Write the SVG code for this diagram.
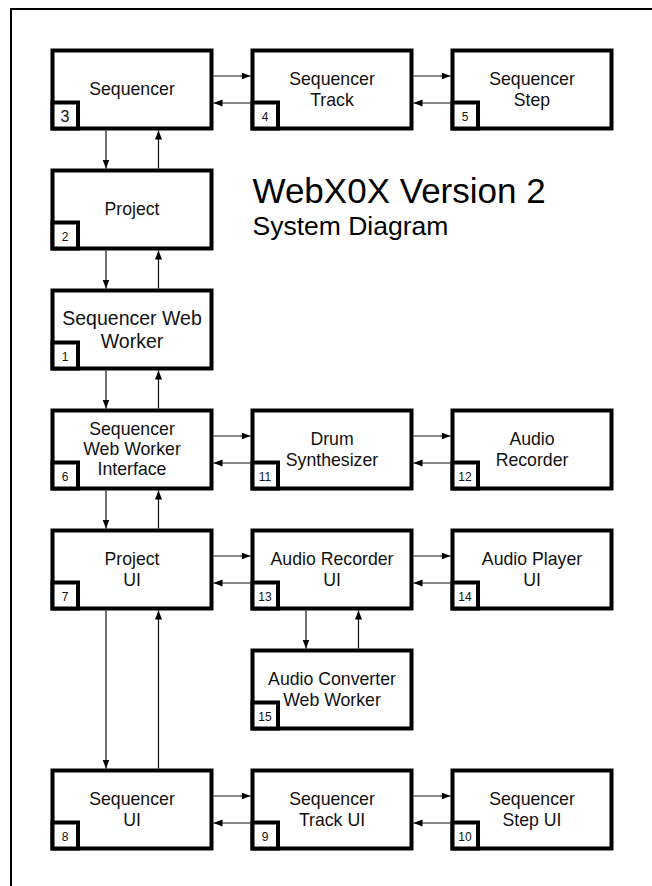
<svg xmlns="http://www.w3.org/2000/svg" width="652" height="886" viewBox="0 0 652 886">
<style>
.box{fill:#fff;stroke:#000;stroke-width:4;stroke-linejoin:miter}
.num{fill:#fff;stroke:#000;stroke-width:4}
.lbl{font-family:"Liberation Sans",Arial,sans-serif;font-size:17.7px;text-anchor:middle;fill:#111}
.big{font-size:19.5px}
.n{font-family:"Liberation Sans",Arial,sans-serif;font-size:12px;text-anchor:middle;fill:#111}
.n3{font-size:16px}
.c{stroke:#111;stroke-width:1.2;fill:none;marker-end:url(#ah)}
.title{font-family:"Liberation Sans",Arial,sans-serif;fill:#000}
</style>
<defs>
<marker id="ah" markerUnits="userSpaceOnUse" markerWidth="10" markerHeight="8" refX="9" refY="3.5" orient="auto">
<path d="M0,0 L9,3.5 L0,7 z" fill="#000"/>
</marker>
</defs>
<rect width="652" height="886" fill="#fff"/>
<rect x="11" y="9" width="700" height="900" fill="none" stroke="#000" stroke-width="2"/>

<g id="title" class="title">
<text x="252.5" y="203.3" font-size="35">WebX0X Version 2</text>
<text x="252.5" y="235" font-size="26.5">System Diagram</text>
</g>

<g id="connectors">
<line class="c" x1="213.5" y1="76" x2="250.5" y2="76"/>
<line class="c" x1="250.5" y1="103" x2="213.5" y2="103"/>
<line class="c" x1="413.5" y1="76" x2="450.5" y2="76"/>
<line class="c" x1="450.5" y1="103" x2="413.5" y2="103"/>
<line class="c" x1="106" y1="130.5" x2="106" y2="168.5"/>
<line class="c" x1="158.5" y1="168.5" x2="158.5" y2="130.5"/>
<line class="c" x1="106" y1="250.5" x2="106" y2="288.5"/>
<line class="c" x1="158.5" y1="288.5" x2="158.5" y2="250.5"/>
<line class="c" x1="106" y1="370.5" x2="106" y2="408.5"/>
<line class="c" x1="158.5" y1="408.5" x2="158.5" y2="370.5"/>
<line class="c" x1="106" y1="490.5" x2="106" y2="528.5"/>
<line class="c" x1="158.5" y1="528.5" x2="158.5" y2="490.5"/>
<line class="c" x1="106" y1="610.5" x2="106" y2="768.5"/>
<line class="c" x1="158.5" y1="768.5" x2="158.5" y2="610.5"/>
<line class="c" x1="213.5" y1="436" x2="250.5" y2="436"/>
<line class="c" x1="250.5" y1="463" x2="213.5" y2="463"/>
<line class="c" x1="413.5" y1="436" x2="450.5" y2="436"/>
<line class="c" x1="450.5" y1="463" x2="413.5" y2="463"/>
<line class="c" x1="213.5" y1="556" x2="250.5" y2="556"/>
<line class="c" x1="250.5" y1="583" x2="213.5" y2="583"/>
<line class="c" x1="413.5" y1="556" x2="450.5" y2="556"/>
<line class="c" x1="450.5" y1="583" x2="413.5" y2="583"/>
<line class="c" x1="306" y1="610.5" x2="306" y2="648.5"/>
<line class="c" x1="358.5" y1="648.5" x2="358.5" y2="610.5"/>
<line class="c" x1="213.5" y1="796" x2="250.5" y2="796"/>
<line class="c" x1="250.5" y1="823" x2="213.5" y2="823"/>
<line class="c" x1="413.5" y1="796" x2="450.5" y2="796"/>
<line class="c" x1="450.5" y1="823" x2="413.5" y2="823"/>
</g>

<g id="n3">
<rect class="box" x="52.5" y="50.5" width="159" height="78"/>
<text class="lbl" x="132" y="95">Sequencer</text>
<rect class="num" x="52.5" y="102.5" width="25.5" height="26"/>
<text class="n n3" x="65" y="121.5">3</text>
</g>
<g id="n4">
<rect class="box" x="252.5" y="50.5" width="159" height="78"/>
<text class="lbl" x="332" y="85">Sequencer</text>
<text class="lbl" x="332" y="106">Track</text>
<rect class="num" x="252.5" y="102.5" width="25.5" height="26"/>
<text class="n" x="265" y="120.5">4</text>
</g>
<g id="n5">
<rect class="box" x="452.5" y="50.5" width="159" height="78"/>
<text class="lbl" x="532" y="85">Sequencer</text>
<text class="lbl" x="532" y="106">Step</text>
<rect class="num" x="452.5" y="102.5" width="25.5" height="26"/>
<text class="n" x="465" y="120.5">5</text>
</g>
<g id="n2">
<rect class="box" x="52.5" y="170.5" width="159" height="78"/>
<text class="lbl" x="132" y="215">Project</text>
<rect class="num" x="52.5" y="222.5" width="25.5" height="26"/>
<text class="n" x="65" y="240.5">2</text>
</g>
<g id="n1">
<rect class="box" x="52.5" y="290.5" width="159" height="78"/>
<text class="lbl big" x="132" y="325">Sequencer Web</text>
<text class="lbl big" x="132" y="348">Worker</text>
<rect class="num" x="52.5" y="342.5" width="25.5" height="26"/>
<text class="n" x="65" y="360.5">1</text>
</g>
<g id="n6">
<rect class="box" x="52.5" y="410.5" width="159" height="78"/>
<text class="lbl" x="132" y="435">Sequencer</text>
<text class="lbl" x="132" y="455">Web Worker</text>
<text class="lbl" x="132" y="475">Interface</text>
<rect class="num" x="52.5" y="462.5" width="25.5" height="26"/>
<text class="n" x="65" y="480.5">6</text>
</g>
<g id="n11">
<rect class="box" x="252.5" y="410.5" width="159" height="78"/>
<text class="lbl" x="332" y="445">Drum</text>
<text class="lbl" x="332" y="466">Synthesizer</text>
<rect class="num" x="252.5" y="462.5" width="25.5" height="26"/>
<text class="n" x="265" y="480.5">11</text>
</g>
<g id="n12">
<rect class="box" x="452.5" y="410.5" width="159" height="78"/>
<text class="lbl" x="532" y="445">Audio</text>
<text class="lbl" x="532" y="466">Recorder</text>
<rect class="num" x="452.5" y="462.5" width="25.5" height="26"/>
<text class="n" x="465" y="480.5">12</text>
</g>
<g id="n7">
<rect class="box" x="52.5" y="530.5" width="159" height="78"/>
<text class="lbl" x="132" y="565">Project</text>
<text class="lbl" x="132" y="586">UI</text>
<rect class="num" x="52.5" y="582.5" width="25.5" height="26"/>
<text class="n" x="65" y="600.5">7</text>
</g>
<g id="n13">
<rect class="box" x="252.5" y="530.5" width="159" height="78"/>
<text class="lbl" x="332" y="565">Audio Recorder</text>
<text class="lbl" x="332" y="586">UI</text>
<rect class="num" x="252.5" y="582.5" width="25.5" height="26"/>
<text class="n" x="265" y="600.5">13</text>
</g>
<g id="n14">
<rect class="box" x="452.5" y="530.5" width="159" height="78"/>
<text class="lbl" x="532" y="565">Audio Player</text>
<text class="lbl" x="532" y="586">UI</text>
<rect class="num" x="452.5" y="582.5" width="25.5" height="26"/>
<text class="n" x="465" y="600.5">14</text>
</g>
<g id="n15">
<rect class="box" x="252.5" y="650.5" width="159" height="78"/>
<text class="lbl" x="332" y="685">Audio Converter</text>
<text class="lbl" x="332" y="706">Web Worker</text>
<rect class="num" x="252.5" y="702.5" width="25.5" height="26"/>
<text class="n" x="265" y="720.5">15</text>
</g>
<g id="n8">
<rect class="box" x="52.5" y="770.5" width="159" height="78"/>
<text class="lbl" x="132" y="805">Sequencer</text>
<text class="lbl" x="132" y="826">UI</text>
<rect class="num" x="52.5" y="822.5" width="25.5" height="26"/>
<text class="n" x="65" y="840.5">8</text>
</g>
<g id="n9">
<rect class="box" x="252.5" y="770.5" width="159" height="78"/>
<text class="lbl" x="332" y="805">Sequencer</text>
<text class="lbl" x="332" y="826">Track UI</text>
<rect class="num" x="252.5" y="822.5" width="25.5" height="26"/>
<text class="n" x="265" y="840.5">9</text>
</g>
<g id="n10">
<rect class="box" x="452.5" y="770.5" width="159" height="78"/>
<text class="lbl" x="532" y="805">Sequencer</text>
<text class="lbl" x="532" y="826">Step UI</text>
<rect class="num" x="452.5" y="822.5" width="25.5" height="26"/>
<text class="n" x="465" y="840.5">10</text>
</g>
</svg>
